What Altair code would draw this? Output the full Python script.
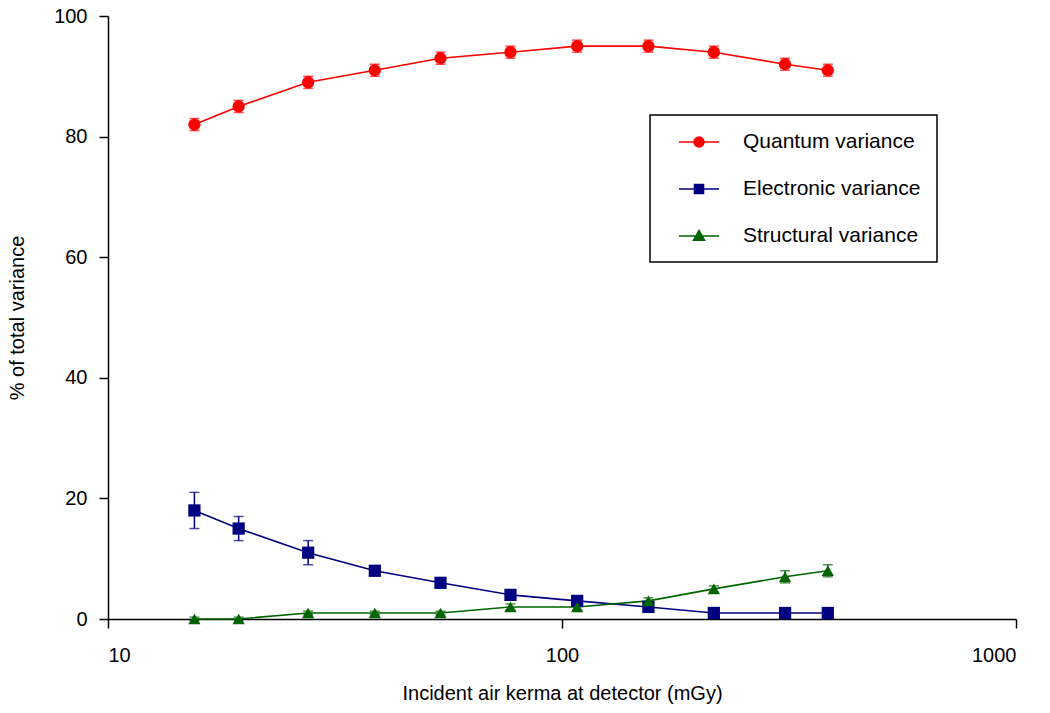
import altair as alt
import pandas as pd

# Incident air kerma at the detector (mGy)
kerma = [15.5, 19.4, 27.6, 38.7, 54.0, 77.0, 108.0, 155.0, 216.0, 310.0, 385.0]

# Share of total variance (%) and half-width of the error bars
quantum = [82, 85, 89, 91, 93, 94, 95, 95, 94, 92, 91]
quantum_err = [1, 1, 1, 1, 1, 1, 1, 1, 1, 1, 1]
electronic = [18, 15, 11, 8, 6, 4, 3, 2, 1, 1, 1]
electronic_err = [3, 2, 2, 0.5, 0.5, 0.5, 0.5, 0.5, 0.5, 0.5, 0.5]
structural = [0, 0, 1, 1, 1, 2, 2, 3, 5, 7, 8]
structural_err = [0.3, 0.3, 0.3, 0.3, 0.3, 0.5, 0.5, 0.5, 0.5, 1, 1]

series = ["Quantum variance", "Electronic variance", "Structural variance"]
colors = ["#ff0000", "#000080", "#006400"]
shapes = ["circle", "square", "triangle-up"]
# legend glyphs: a short line with the marker on top
legend_shapes = [
    "M-2,0H2M-0.5,0A0.5,0.5 0 1 1 0.5,0A0.5,0.5 0 1 1 -0.5,0Z",
    "M-2,0H2M-0.45,-0.45H0.45V0.45H-0.45Z",
    "M-2,0H2M0,-0.55L0.55,0.42H-0.55Z",
]

rows = []
for name, vals, errs in zip(series, [quantum, electronic, structural],
                            [quantum_err, electronic_err, structural_err]):
    for k, v, e in zip(kerma, vals, errs):
        rows.append({"kerma": k, "value": v, "lo": v - e, "hi": v + e, "series": name})
df = pd.DataFrame(rows)

FONT = "Liberation Sans"

x = alt.X("kerma:Q",
          scale=alt.Scale(type="log", domain=[10, 1000], nice=False),
          axis=alt.Axis(title="Incident air kerma at detector (mGy)",
                        values=[10, 100, 1000], format="d",
                        labelPadding=17, titlePadding=18))
y = alt.Y("value:Q",
          scale=alt.Scale(domain=[0, 100], nice=False),
          axis=alt.Axis(title="% of total variance", values=[0, 20, 40, 60, 80, 100],
                        labelPadding=12, titlePadding=26))

color_plain = alt.Color("series:N", scale=alt.Scale(domain=series, range=colors), legend=None)

base = alt.Chart(df)

lines = base.mark_line(strokeWidth=1.6).encode(x=x, y=y, color=color_plain)

bars = base.mark_rule(strokeWidth=1.5).encode(
    x="kerma:Q", y="lo:Q", y2="hi:Q", color=color_plain)
cap_lo = base.mark_tick(orient="horizontal", size=10, thickness=1.5).encode(
    x="kerma:Q", y="lo:Q", color=color_plain)
cap_hi = base.mark_tick(orient="horizontal", size=10, thickness=1.5).encode(
    x="kerma:Q", y="hi:Q", color=color_plain)

# one marker layer per series, each with its own symbol
marker_layers = [
    base.transform_filter(alt.datum.series == name)
    .mark_point(filled=True, size=150, opacity=1, shape=shp)
    .encode(x="kerma:Q", y="value:Q", color=color_plain)
    for name, shp in zip(series, shapes)
]

data_layers = alt.layer(lines, bars, cap_lo, cap_hi, *marker_layers)

legend_def = dict(title=None, orient="none", legendX=542, legendY=99,
                  strokeColor="black", padding=16, symbolOffset=22,
                  symbolSize=400, symbolStrokeWidth=1.6,
                  symbolOpacity=1, rowPadding=26,
                  labelFont=FONT, labelFontSize=21, labelOffset=33,
                  labelColor="black", labelLimit=400)

# transparent layer that only supplies the legend
legend_layer = base.mark_point(filled=True, opacity=0, size=400).encode(
    x="kerma:Q", y="value:Q",
    color=alt.Color("series:N", scale=alt.Scale(domain=series, range=colors),
                    sort=series, legend=alt.Legend(**legend_def)),
    stroke=alt.Stroke("series:N", scale=alt.Scale(domain=series, range=colors),
                      sort=series, legend=alt.Legend(**legend_def)),
    shape=alt.Shape("series:N", scale=alt.Scale(domain=series, range=legend_shapes),
                    sort=series, legend=alt.Legend(**legend_def)),
)

chart = alt.layer(data_layers, legend_layer).resolve_scale(
    color="independent", shape="independent", stroke="independent"
).properties(
    width=908, height=603,
    autosize=alt.AutoSizeParams(type="none"),
    padding={"left": 108, "top": 16, "right": 26, "bottom": 94},
).configure_view(stroke=None).configure_axis(
    domainColor="black", domainWidth=1.5, tickColor="black", tickWidth=1.5,
    tickSize=9, grid=False, labelFont=FONT, labelFontSize=20, labelColor="black",
    titleFont=FONT, titleFontSize=20, titleFontWeight="normal", titleColor="black",
).configure_legend(strokeWidth=1.5)

chart.save("out.html", embed_options={"renderer": "svg", "actions": False})
